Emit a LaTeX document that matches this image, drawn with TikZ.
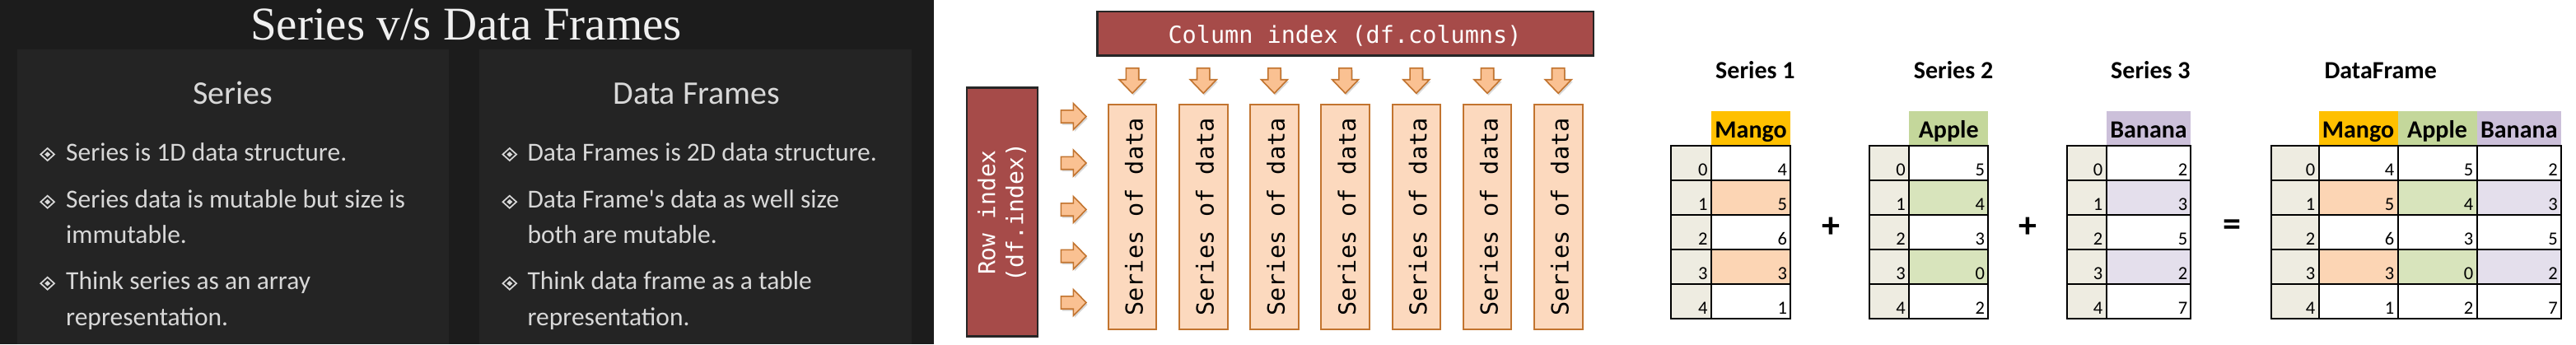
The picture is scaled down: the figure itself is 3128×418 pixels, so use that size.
\documentclass[tikz,border=0pt]{standalone}
\usepackage{fontspec}
\setmainfont{Liberation Serif}
\newfontfamily\calfont{Carlito}
\newfontfamily\codefont{DejaVu Sans Mono}
\usetikzlibrary{shadows}

\definecolor{board}{HTML}{1C1C1C}
\definecolor{boardbox}{HTML}{242424}
\definecolor{chalk}{HTML}{D8D8D8}
\definecolor{brick}{HTML}{A64B49}
\definecolor{peach}{HTML}{FCD9BE}
\definecolor{peachline}{HTML}{C2742F}
\definecolor{arrowfill}{HTML}{FAC192}
\definecolor{mangohead}{HTML}{FFC000}
\definecolor{applehead}{HTML}{C4D79B}
\definecolor{bananahead}{HTML}{CCC0DA}
\definecolor{mangolite}{HTML}{FCD5B4}
\definecolor{applelite}{HTML}{D8E4BC}
\definecolor{bananalite}{HTML}{E4DFEC}
\definecolor{idxfill}{HTML}{EEECE1}

\begin{document}
\begin{tikzpicture}
  [x=1pt,y=-1pt,
   chalktext/.style={text=chalk,inner sep=0pt,anchor=base west,font=\calfont\fontsize{31.5}{36}\selectfont},
   subhead/.style={text=chalk,inner sep=0pt,anchor=base,font=\calfont\fontsize{40}{44}\selectfont},
   brickbox/.style={draw=black!85,line width=2.5pt,fill=brick,text=white,inner sep=0pt,
     drop shadow={shadow xshift=1pt,shadow yshift=-1.5pt,opacity=.35}},
   seriescol/.style={draw=peachline,line width=2pt,fill=peach,inner sep=0pt,
     minimum width=58.6pt,minimum height=273.5pt},
   coltext/.style={rotate=90,anchor=base,inner sep=0pt,font=\codefont\fontsize{28.5}{32}\selectfont},
   blockarrow/.style={draw=peachline,line width=1.6pt,fill=arrowfill,line join=miter,
     drop shadow={shadow xshift=1.5pt,shadow yshift=-2.5pt,opacity=.3}},
   tbltitle/.style={inner sep=0pt,anchor=base west,font=\calfont\bfseries\fontsize{30}{34}\selectfont},
   tblhead/.style={inner sep=0pt,anchor=base,font=\calfont\bfseries\fontsize{30}{34}\selectfont},
   cellnum/.style={inner sep=0pt,anchor=base east,font=\calfont\fontsize{22.5}{26}\selectfont},
   tablegrid/.style={draw=black,line width=2pt},
   opsign/.style={inner sep=0pt,font=\calfont\bfseries\fontsize{44}{48}\selectfont},
   pics/chalkbullet/.style={code={
     \draw[chalk,line width=1.7pt] (0,-7.5) -- (8.3,0) -- (0,7.5) -- (-8.3,0) -- cycle;
     \fill[chalk] (0,-3.2) -- (3.5,0) -- (0,3.2) -- (-3.5,0) -- cycle;}},
   pics/dnarrow/.style={code={
     \draw[blockarrow] (-7.7,-15.3) -- (7.7,-15.3) -- (7.7,-1.3) -- (16,-1.3)
       -- (0,15.3) -- (-16,-1.3) -- (-7.7,-1.3) -- cycle;}},
   pics/rtarrow/.style={code={
     \draw[blockarrow] (-15.3,-7.7) -- (-15.3,7.7) -- (-0.3,7.7) -- (-0.3,16)
       -- (15.4,0) -- (-0.3,-16) -- (-0.3,-7.7) -- cycle;}}]

  \useasboundingbox (0,0) rectangle (3128,418);
  \fill[white] (0,0) rectangle (3128,418);

  %%%%%%%%%%%%%%%%%%%%%% PANEL 1 : chalk board %%%%%%%%%%%%%%%%%%%%%%

  \fill[board] (0,0) rectangle (1134,418);
  \fill[boardbox] (21,59.5) rectangle (545,418);
  \fill[boardbox] (582,59.5) rectangle (1107,418);

  \node[text=white!94!black,inner sep=0pt,anchor=base,font=\fontsize{57}{60}\selectfont]
    (title) at (566,48) {Series v/s Data Frames};

  \node[subhead] (serhead) at (283,126.7) {Series};
  \node[subhead] (dfhead) at (846,126.7) {Data Frames};

  \foreach \yb/\txt [count=\i] in {195/Series is 1D data structure.,
      252.7/Series data is mutable but size is,351.7/Think series as an array}
  {
    \pic at (57.7,\yb-7.5) {chalkbullet};
    \node[chalktext] (serb\i) at (80,\yb) {\txt};
  }
  \node[chalktext] (serc1) at (80,295) {immutable.};
  \node[chalktext] (serc2) at (80,395) {representation.};

  \foreach \yb/\txt [count=\i] in {195/Data Frames is 2D data structure.,
      252.7/Data Frame's data as well size,351.7/Think data frame as a table}
  {
    \pic at (618.8,\yb-7.5) {chalkbullet};
    \node[chalktext] (dfb\i) at (640.4,\yb) {\txt};
  }
  \node[chalktext] (dfc1) at (640.4,295) {both are mutable.};
  \node[chalktext] (dfc2) at (640.4,395) {representation.};

  %%%%%%%%%%%%%%%%%%%%%% PANEL 2 : index layout %%%%%%%%%%%%%%%%%%%%%%

  \node[brickbox,minimum width=602.7pt,minimum height=53.3pt] (colidx) at (1633.6,40.7) {};
  \node[inner sep=0pt,anchor=base,text=white,font=\codefont\fontsize{28.5}{32}\selectfont]
    (colidxtxt) at (1633,52) {Column index (df.columns)};

  \node[brickbox,minimum width=86pt,minimum height=301.6pt] (rowidx) at (1217,257.5) {};
  \node[rotate=90,align=center,inner sep=0pt,text=white,font=\codefont\fontsize{28}{34}\selectfont]
    (rowidxtxt) at (1216.5,258) {Row index\\(df.index)};

  \foreach \i in {0,...,6}
  {
    \pic at (1375+86.2*\i,98) {dnarrow};
    \node[seriescol] (sc\i) at (1375+86.2*\i,263.5) {};
    \node[coltext] (sct\i) at (1387.5+86.2*\i,263.5) {Series of data};
  }

  \foreach \j in {0,...,4}
    \pic at (1303.6,141.5+56.5*\j) {rtarrow};

  %%%%%%%%%%%%%%%%%%%%%% PANEL 3 : series to dataframe %%%%%%%%%%%%%%%%%%%%%%

  \node[tbltitle] (ttl1) at (2083,95) {Series 1};
  \node[tbltitle] (ttl2) at (2323.7,95) {Series 2};
  \node[tbltitle] (ttl3) at (2563,95) {Series 3};
  \node[tbltitle] (ttl4) at (2822.3,95) {DataFrame};

  % index columns
  \foreach \xl/\xr [count=\t] in {2028.6/2077.8,2269.7/2318,2509.5/2557.5,2757.5/2815.5}
  {
    \fill[idxfill] (\xl,177.3) rectangle (\xr,387.3);
    \foreach \r in {0,...,4}
      \node[cellnum] (ix\t-\r) at (\xr-4,213.3+42*\r) {\r};
  }

  % value columns
  \foreach \xl/\xr/\hd/\lt/\name/\vals [count=\c] in
     {2077.8/2174.3/mangohead/mangolite/Mango/{4,5,6,3,1},
      2318/2414.3/applehead/applelite/Apple/{5,4,3,0,2},
      2557.5/2660.4/bananahead/bananalite/Banana/{2,3,5,2,7},
      2815.5/2911.5/mangohead/mangolite/Mango/{4,5,6,3,1},
      2911.5/3007.5/applehead/applelite/Apple/{5,4,3,0,2},
      3007.5/3110/bananahead/bananalite/Banana/{2,3,5,2,7}}
  {
    \fill[\hd] (\xl,135) rectangle (\xr,177.3);
    \node[tblhead] (hd\c) at ({(\xl+\xr)/2},167.3) {\name};
    \fill[\lt] (\xl,219.3) rectangle (\xr,261.3);
    \fill[\lt] (\xl,303.3) rectangle (\xr,345.3);
    \foreach \v [count=\r from 0] in \vals
      \node[cellnum] (v\c-\r) at (\xr-4,213.3+42*\r) {\v};
  }

  % grid lines
  \foreach \xl/\xr in {2028.6/2077.8,2077.8/2174.3,2269.7/2318,2318/2414.3,
      2509.5/2557.5,2557.5/2660.4,2757.5/2815.5,2815.5/2911.5,2911.5/3007.5,3007.5/3110}
  {
    \draw[tablegrid] (\xl,177.3) rectangle (\xr,387.3);
    \foreach \yy in {219.3,261.3,303.3,345.3}
      \draw[tablegrid] (\xl,\yy) -- (\xr,\yy);
  }

  \node[opsign] (plus1) at (2223,276.7) {+};
  \node[opsign] (plus2) at (2462.5,276.7) {+};
  \node[opsign] (equal) at (2710,276.7) {=};

\end{tikzpicture}
\end{document}
